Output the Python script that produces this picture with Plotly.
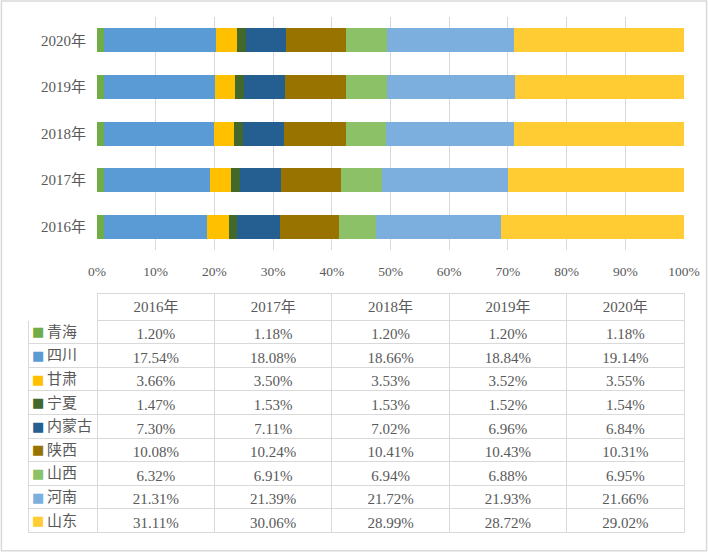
import plotly.graph_objects as go

# categories and series
years = ['2016年', '2017年', '2018年', '2019年', '2020年']
provinces = ['青海', '四川', '甘肃', '宁夏', '内蒙古', '陕西', '山西', '河南', '山东']
colors = ['#70AD47', '#5B9BD5', '#FFC000', '#43682B', '#255E91',
          '#997300', '#8CC168', '#7CAFDD', '#FFCD33']

qinghai = [1.20, 1.18, 1.20, 1.20, 1.18]
sichuan = [17.54, 18.08, 18.66, 18.84, 19.14]
gansu = [3.66, 3.50, 3.53, 3.52, 3.55]
ningxia = [1.47, 1.53, 1.53, 1.52, 1.54]
neimenggu = [7.30, 7.11, 7.02, 6.96, 6.84]
shaanxi = [10.08, 10.24, 10.41, 10.43, 10.31]
shanxi = [6.32, 6.91, 6.94, 6.88, 6.95]
henan = [21.31, 21.39, 21.72, 21.93, 21.66]
shandong = [31.11, 30.06, 28.99, 28.72, 29.02]

series = [qinghai, sichuan, gansu, ningxia, neimenggu, shaanxi, shanxi, henan, shandong]

text_font = 'Liberation Serif, Noto Sans CJK SC'
grey = '#595959'
W, H = 708, 553

# table geometry (px)
tab_left, tab_right = 28, 684
tab_top = 293
head_h, row_h = 27, 23.6


def main():
    fig = go.Figure()

    # stacked bars, normalised to 100%
    for name, vals, col in zip(provinces, series, colors):
        fig.add_trace(go.Bar(y=years, x=vals, name=name, orientation='h',
                             marker=dict(color=col, line=dict(width=0)),
                             width=0.515, showlegend=False))

    # data table under the chart (first column labels drawn as annotations)
    header = [''] + years
    cols = [[''] * len(provinces)]
    for i in range(len(years)):
        cols.append(['%.2f%%' % s[i] for s in series])

    tab_bottom = tab_top + head_h + row_h * len(provinces) + 1
    fig.add_trace(go.Table(
        domain=dict(x=[tab_left / W, tab_right / W],
                    y=[1 - tab_bottom / H, 1 - tab_top / H]),
        columnwidth=[69, 117, 117, 117, 117, 117],
        header=dict(values=header, height=head_h,
                    line=dict(color=['white'] + ['#D9D9D9'] * 5, width=1),
                    fill=dict(color='white'),
                    font=dict(family=text_font, size=15, color=grey),
                    align='center'),
        cells=dict(values=cols, height=row_h,
                   line=dict(color='#D9D9D9', width=1),
                   fill=dict(color='white'),
                   font=dict(family=text_font, size=15, color=grey),
                   align='center'),
    ))

    # legend keys + names in the first table column
    notes = []
    for i, (p, col) in enumerate(zip(provinces, colors)):
        yc = 1 - (tab_top + head_h + row_h * (i + 0.5)) / H
        notes.append(dict(x=38 / W, y=yc, xref='paper', yref='paper',
                          text='■', showarrow=False, xanchor='center', yanchor='middle',
                          borderpad=0,
                          font=dict(family='DejaVu Sans', size=13, color=col)))
        notes.append(dict(x=46 / W, y=yc, xref='paper', yref='paper',
                          text=p, showarrow=False, xanchor='left', yanchor='middle',
                          borderpad=0,
                          font=dict(family=text_font, size=15, color=grey)))

    fig.update_layout(
        width=W, height=H,
        margin=dict(l=0, r=0, t=0, b=0),
        barmode='stack', barnorm='percent',
        plot_bgcolor='white', paper_bgcolor='white',
        font=dict(family=text_font, size=14, color=grey),
        xaxis=dict(domain=[97 / W, 684 / W], range=[0, 100],
                   tickvals=list(range(0, 101, 10)),
                   ticktext=['%d%%' % v for v in range(0, 101, 10)],
                   showgrid=True, gridcolor='#D9D9D9', gridwidth=1,
                   zeroline=False, showline=False, ticks='',
                   ticklabelstandoff=11, automargin=False,
                   tickfont=dict(family=text_font, size=13.5, color=grey)),
        yaxis=dict(domain=[1 - 250 / H, 1 - 17 / H],
                   categoryorder='array', categoryarray=years,
                   showgrid=False, zeroline=False, showline=False, ticks='',
                   ticklabelstandoff=10, automargin=False,
                   tickfont=dict(family=text_font, size=15, color=grey)),
        annotations=notes,
        shapes=[dict(type='rect', xref='paper', yref='paper',
                     x0=0.002, x1=0.998, y0=0.004, y1=0.998,
                     line=dict(color='#D9D9D9', width=1.5))],
    )

    # drop the default page margin so the figure sits at the window corner
    fig.write_html('out.html', config={'displayModeBar': False},
                   post_script="document.body.style.margin='0';")


if __name__ == '__main__':
    main()
